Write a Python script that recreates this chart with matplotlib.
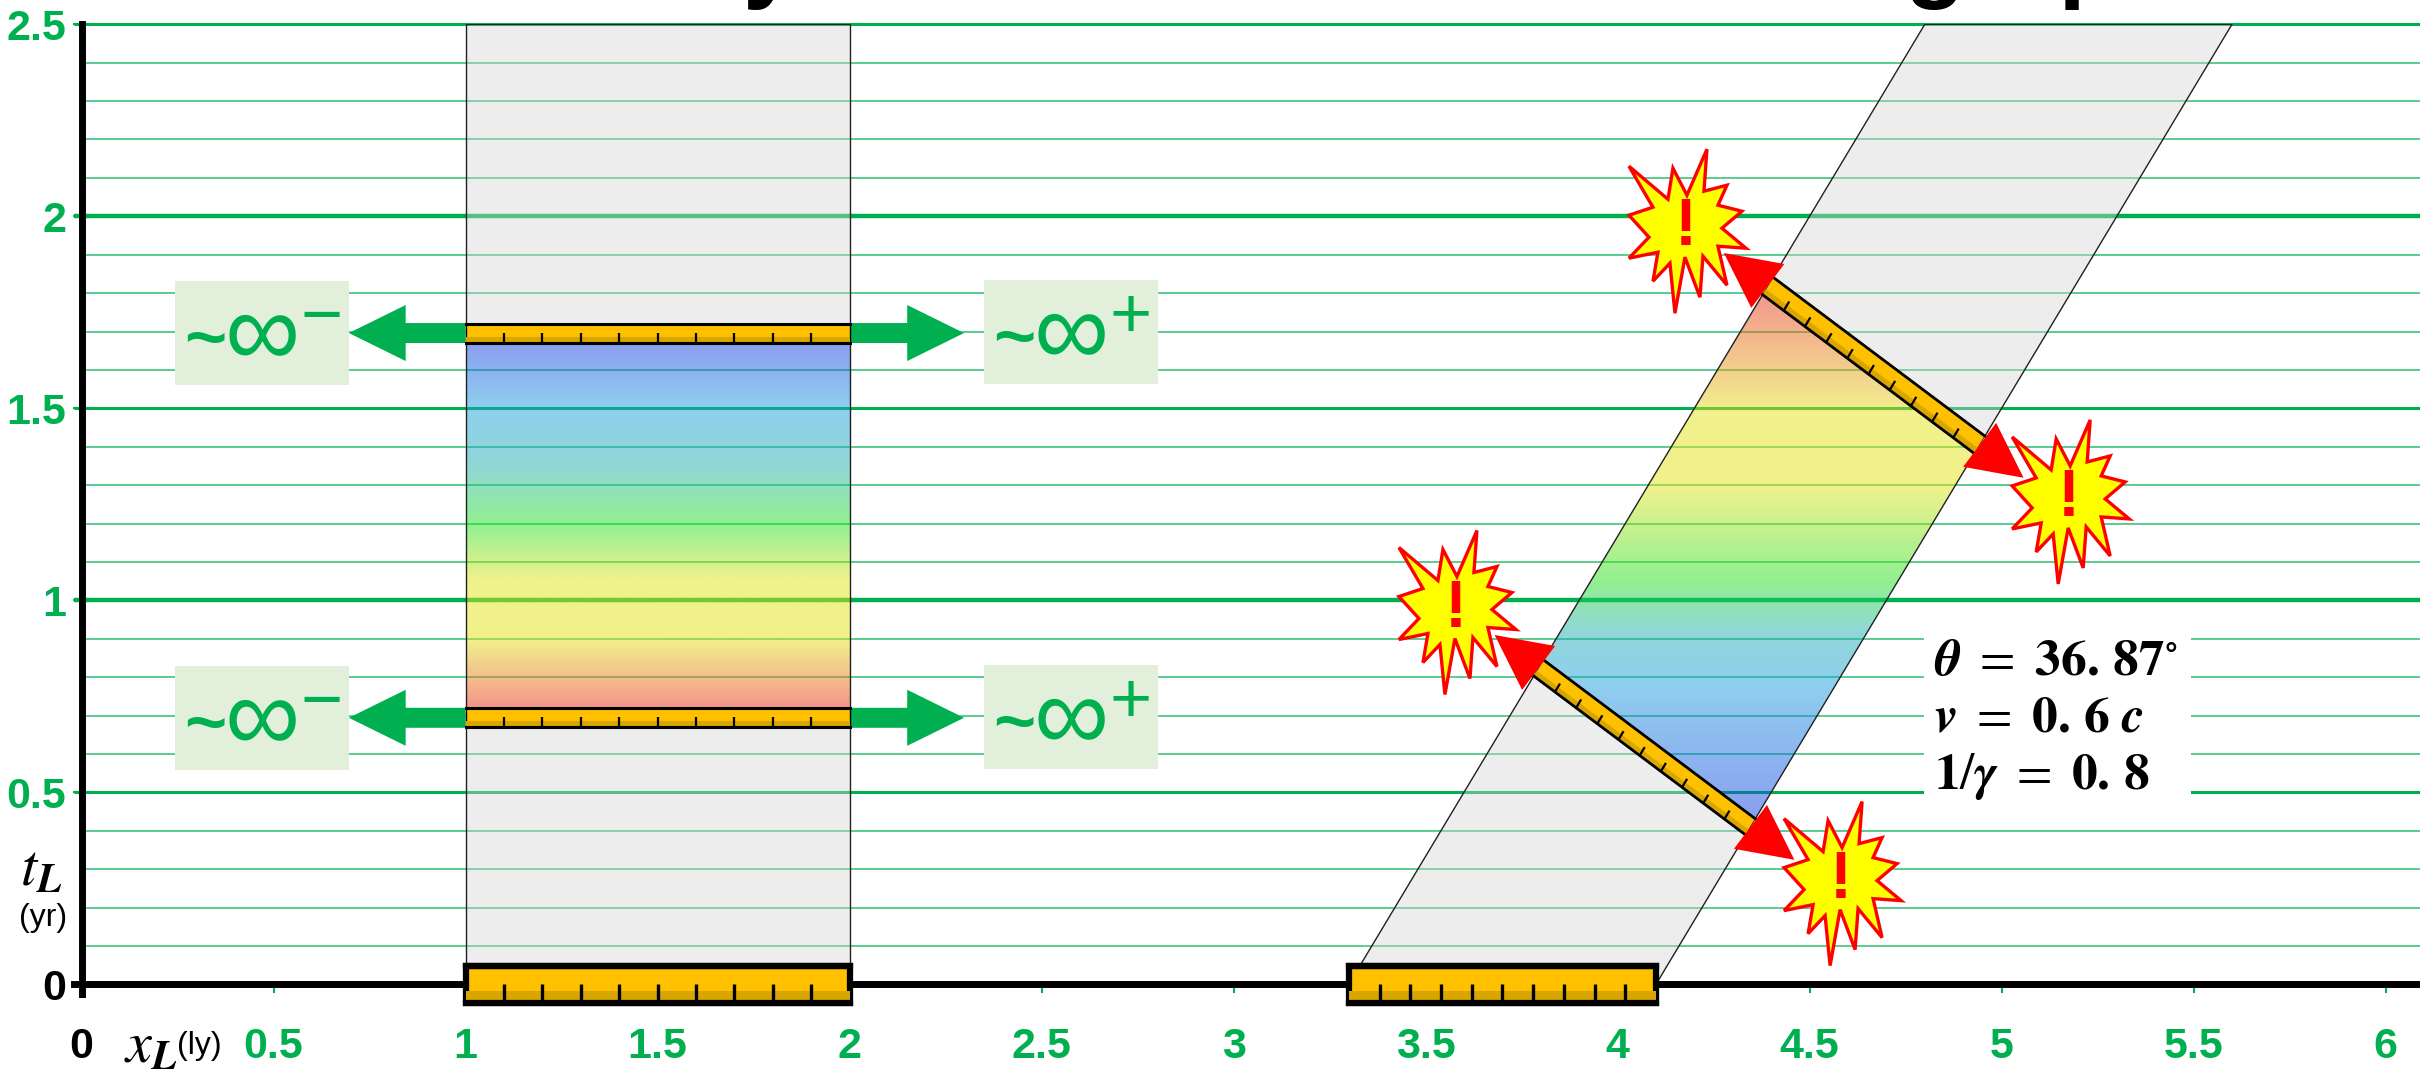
#!/usr/bin/env python3
"""Spacetime diagram: a ruler at rest and a moving ruler, with gradient bands."""

import matplotlib
matplotlib.use('Agg')
import matplotlib.pyplot as plt
from matplotlib.patches import FancyArrow, Polygon, Rectangle
import numpy as np

GREEN = '#00B050'
PALE = '#E2EFDA'
ORANGE = '#FFC000'
DARK = '#D9A600'
RED = '#FF0000'
YELLOW = '#FFFF00'

plt.rcParams['font.family'] = ['Liberation Sans', 'DejaVu Sans']
plt.rcParams['mathtext.fontset'] = 'stix'

# Axis values
x_ticks = [0, 0.5, 1, 1.5, 2, 2.5, 3, 3.5, 4, 4.5, 5, 5.5, 6]
x_labels = ['0', '0.5', '1', '1.5', '2', '2.5', '3', '3.5', '4', '4.5', '5', '5.5', '6']
y_ticks = [0, 0.5, 1, 1.5, 2, 2.5]
y_labels = ['0', '0.5', '1', '1.5', '2', '2.5']
y_minor = [0.1, 0.2, 0.3, 0.4, 0.6, 0.7, 0.8, 0.9, 1.1, 1.2, 1.3, 1.4,
           1.6, 1.7, 1.8, 1.9, 2.1, 2.2, 2.3, 2.4]
y_half = [0.5, 1.5, 2.5]
y_whole = [1, 2]

# Ruler at rest
rest_x = [1, 2]
rest_lower = [0.67, 0.72]
rest_upper = [1.67, 1.72]

# Moving ruler: world lines x = x0 + v t, simultaneity lines t = a - 0.75 x
v = 0.6
moving_x0 = [3.3, 4.1]
sim_slope = 0.75
sim_lower = [3.639, 3.70]
sim_upper = [5.079, 5.145]
t_top = 2.5

# Rainbow fills: colour stops as seen on white, blue end first
rest_t = [1.67, 1.50, 1.35, 1.20, 1.05, 0.90, 0.72]
moving_t = [0.43, 0.78, 0.92, 1.045, 1.30, 1.48, 1.80]
band_r = [138, 142, 144, 144, 242, 242, 244]
band_g = [158, 207, 215, 240, 242, 242, 149]
band_b = [240, 238, 215, 144, 140, 140, 140]

# Starburst centres in (x, t)
burst_x = [4.178, 5.176, 3.579, 4.582]
burst_t = [1.969, 1.264, 0.976, 0.270]
# Starburst outline, pixels from the centre
burst_dx = [21, 1, -13, -18, -57, -33, -57, -37, -57, -28, -33, -16, -11,
            -1, 14, 17, 41, 32, 60, 36, 56, 32, 41, 18]
burst_dy = [-79, -33, -60, -29, -62, -21, -13, 9, 30, 24, 53, 35, 85,
            29, 69, 28, 57, 18, 20, 0, -17, -23, -43, -37]

fig = plt.figure(figsize=(24.2, 10.74), dpi=100)
PX = 384.0
x0_px, y0_px = 81.6, 984.3
ax = fig.add_axes([x0_px / 2420, (1074 - y0_px) / 1074, (2420 - x0_px) / 2420, 2.5 * PX / 1074])
ax.set_xlim(0, (2420 - x0_px) / PX)
ax.set_ylim(0, t_top)
ax.patch.set_visible(False)

# Grid
ax.hlines(y_minor, 0, 6.1, color=GREEN, lw=1.2, alpha=0.75, zorder=1)
ax.hlines(y_half, -0.02, 6.1, color=GREEN, lw=2.2, zorder=1, clip_on=False)
ax.hlines(y_whole, -0.02, 6.1, color=GREEN, lw=3.2, zorder=1, clip_on=False)


def world_cross(x0, a):
    # where a world line meets a simultaneity line
    x = (x0 + v * a) / (1 + v * sim_slope)
    return np.array([x, a - sim_slope * x])


def gray(points):
    ax.add_patch(Polygon(points, closed=True, fc='#D4D4D4', ec='none', alpha=0.4, zorder=2))
    ax.add_patch(Polygon(points, closed=True, fc='none', ec='#202020', lw=1.0, zorder=3))


def rainbow(points, t_stops, colors):
    ts = np.linspace(max(t_stops), min(t_stops), 400)
    order = np.argsort(t_stops)
    stops = np.array(t_stops)[order]
    a = 0.5
    rgba = np.zeros((400, 1, 4))
    for i, chan in enumerate(colors):
        seen = np.interp(ts, stops, np.array(chan)[order]) / 255
        rgba[:, 0, i] = (seen - (1 - a)) / a
    rgba[:, :, 3] = a
    xs = [p[0] for p in points]
    im = ax.imshow(np.clip(rgba, 0, 1), extent=[min(xs), max(xs), min(t_stops), max(t_stops)],
                   aspect='auto', origin='upper', zorder=2, interpolation='bilinear')
    clip = Polygon(points, closed=True, transform=ax.transData, fc='none', ec='none')
    ax.add_patch(clip)
    im.set_clip_path(clip)
    ax.add_patch(Polygon(points, closed=True, fc='none', ec='#202020', lw=1.0, zorder=3))


def ruler(tl, tr, bl, br, edge, side, tick, z=6):
    tl, tr, bl, br = [np.array(p, dtype=float) for p in (tl, tr, bl, br)]
    ax.add_patch(Polygon([tl, tr, br, bl], closed=True, fc=ORANGE, ec='black', lw=side, zorder=z,
                         clip_on=False))
    ax.add_patch(Polygon([tl + 0.68 * (bl - tl), tr + 0.68 * (br - tr), br, bl], closed=True,
                         fc=DARK, ec='none', zorder=z, clip_on=False))
    for i in range(1, 10):
        low = bl + (br - bl) * i / 10
        high = tl + (tr - tl) * i / 10
        mid = low + 0.52 * (high - low)
        ax.plot([low[0], mid[0]], [low[1], mid[1]], color='black', lw=tick, zorder=z + 1,
                solid_capstyle='butt', clip_on=False)
    for a, b in ((tl, tr), (bl, br)):
        ax.plot([a[0], b[0]], [a[1], b[1]], color='black', lw=edge, zorder=z + 1,
                solid_capstyle='projecting', clip_on=False)


# Rest frame band
gray([(rest_x[0], 0), (rest_x[1], 0), (rest_x[1], rest_lower[0]), (rest_x[0], rest_lower[0])])
gray([(rest_x[0], rest_upper[1]), (rest_x[1], rest_upper[1]), (rest_x[1], t_top), (rest_x[0], t_top)])
rainbow([(rest_x[0], rest_lower[1]), (rest_x[1], rest_lower[1]),
         (rest_x[1], rest_upper[0]), (rest_x[0], rest_upper[0])],
        rest_t, (band_r, band_g, band_b))

# Moving band
gray([(moving_x0[0], 0), (moving_x0[1], 0),
      world_cross(moving_x0[1], sim_lower[0]), world_cross(moving_x0[0], sim_lower[0])])
gray([world_cross(moving_x0[0], sim_upper[1]), world_cross(moving_x0[1], sim_upper[1]),
      (moving_x0[1] + v * t_top, t_top), (moving_x0[0] + v * t_top, t_top)])
rainbow([world_cross(moving_x0[0], sim_lower[1]), world_cross(moving_x0[1], sim_lower[1]),
         world_cross(moving_x0[1], sim_upper[0]), world_cross(moving_x0[0], sim_upper[0])],
        moving_t, (band_r, band_g, band_b))

# Spines and ticks
for side in ('top', 'right'):
    ax.spines[side].set_visible(False)
for side in ('left', 'bottom'):
    ax.spines[side].set_linewidth(5)
    ax.spines[side].set_zorder(5)
ax.spines['left'].set_bounds(-0.024, t_top)
ax.spines['bottom'].set_bounds(-0.02, 6.09)
ax.set_xticks(x_ticks, x_labels)
ax.set_yticks(y_ticks, y_labels)
ax.tick_params(axis='x', colors=GREEN, length=6.5, width=1.5, pad=24, labelsize=31)
ax.tick_params(axis='y', colors=GREEN, length=6.2, width=1.5, pad=5, labelsize=31)
for lab in ax.get_xticklabels() + ax.get_yticklabels():
    lab.set_fontweight('bold')
ax.get_xticklabels()[0].set_color('black')
ax.get_yticklabels()[0].set_color('black')
ax.get_yticklines()[0].set_color('black')
ax.get_xticklines()[0].set_visible(False)

# Rulers at rest
for low, high in (rest_lower, rest_upper):
    ruler((rest_x[0], high), (rest_x[1], high), (rest_x[0], low), (rest_x[1], low), 2.2, 1.0, 1.6)
ruler((rest_x[0], 0.047), (rest_x[1], 0.047), (rest_x[0], -0.048), (rest_x[1], -0.048), 4.5, 4.5, 2.4)
ruler((moving_x0[0], 0.047), (moving_x0[1], 0.047), (moving_x0[0], -0.048), (moving_x0[1], -0.048),
      4.5, 4.5, 2.4)

# Slanted rulers
for low, high in (sim_lower, sim_upper):
    ruler(world_cross(moving_x0[0], high), world_cross(moving_x0[1], high),
          world_cross(moving_x0[0], low), world_cross(moving_x0[1], low), 2.0, 0.5, 1.6)

# Green arrows
for t_mid in (1.696, 0.694):
    for start, length in ((rest_x[0], -0.304), (rest_x[1], 0.298)):
        ax.add_patch(FancyArrow(start, t_mid, length, 0, width=0.052, head_width=0.146,
                                head_length=0.148, length_includes_head=True, fc=GREEN, ec='none',
                                zorder=5))

# Red arrow heads
for low, high in (sim_lower, sim_upper):
    a_mid = (low + high) / 2
    left = world_cross(moving_x0[0], a_mid)
    right = world_cross(moving_x0[1], a_mid)
    for p, sx in ((left, -1), (right, 1)):
        ax.add_patch(FancyArrow(p[0], p[1], sx * 0.8 * 0.143, -sx * 0.6 * 0.143, width=0.001,
                                head_width=0.143, head_length=0.143, length_includes_head=True,
                                fc=RED, ec='none', zorder=9))

# Starbursts
for bx, bt in zip(burst_x, burst_t):
    pts = [(bx + dx / PX, bt - dy / PX) for dx, dy in zip(burst_dx, burst_dy)]
    ax.add_patch(Polygon(pts, closed=True, fc=YELLOW, ec=RED, lw=2.4, zorder=10))
    ax.text(bx, bt, '!', color=RED, fontsize=48, fontweight='bold', ha='center', va='center', zorder=11)


def px_text(x, y, s, **kw):
    fig.text(x / 2420, 1 - y / 1074, s, **kw)


# Infinity boxes
for x_off, y_off, sign in ((0, 0, '\u2212'), (809, -1, '+')):
    for t_off in (0, 385):
        fig.add_artist(Rectangle(((175 + x_off) / 2420, 1 - (385 + y_off + t_off) / 1074),
                                 174 / 2420, 104 / 1074, transform=fig.transFigure, fc=PALE,
                                 ec='none', zorder=8))
        px_text(205 + x_off, 361 + y_off + t_off, '~', color=GREEN, fontsize=52, fontweight='bold',
                va='baseline', ha='center', zorder=9)
        px_text(262 + x_off, 365 + y_off + t_off, '\u221e', color=GREEN, fontsize=76, va='baseline',
                ha='center', zorder=9)
        px_text(322 + x_off, 338 + y_off + t_off, sign, color=GREEN, fontsize=52, va='baseline',
                ha='center', zorder=9)

# Axis captions
px_text(20, 870, r'$t_{\mathbfit{L}}$', fontsize=42, color='black', ha='left', va='center')
px_text(43, 918, '(yr)', fontsize=23, color='black', ha='center', va='center')
px_text(124, 1047, r'$x_{\mathbfit{L}}$', fontsize=42, color='black', ha='left', va='center')
px_text(199, 1046, '(ly)', fontsize=23, color='black', ha='center', va='center')

# Parameters block
fig.add_artist(Rectangle((1924 / 2420, 1 - 800 / 1074), 267 / 2420, 168 / 1074,
                         transform=fig.transFigure, fc='white', ec='none', zorder=8))
px_text(1934, 662, r'$\mathbfit{\theta}\ =\ \mathbf{36.}\,\mathbf{87}^{\circ}$', fontsize=37,
        ha='left', va='center', zorder=9)
px_text(1934, 718, r'$\mathbfit{v}\ =\ \mathbf{0.}\,\mathbf{6}\ \mathbfit{c}$', fontsize=37,
        ha='left', va='center', zorder=9)
px_text(1934, 777, r'$\mathbf{1}/\mathbfit{\gamma}\ =\ \mathbf{0.}\,\mathbf{8}$', fontsize=37,
        ha='left', va='center', zorder=9)

# Title runs off the top of the frame, only descenders show
px_text(770, -10, 'y', fontsize=71, fontweight='bold', ha='center', va='baseline', color='black')
px_text(1905, -10, 'graph', fontsize=71, fontweight='bold', ha='left', va='baseline', color='black')

fig.savefig('out.png', dpi=100)
